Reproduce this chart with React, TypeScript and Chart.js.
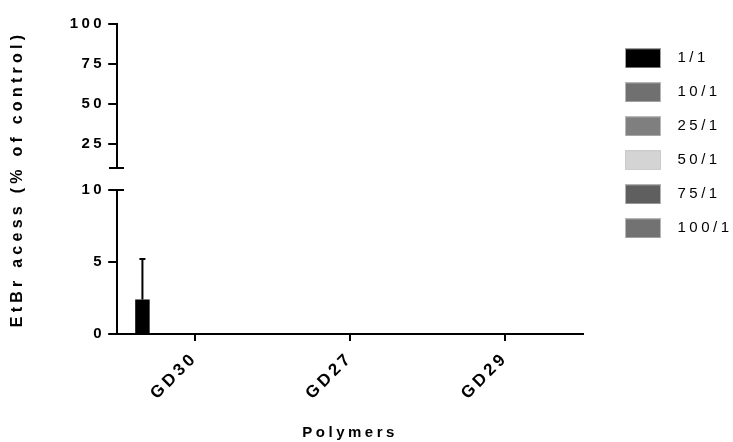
import React, { useEffect, useRef } from 'react';
import { Chart, registerables } from 'chart.js';

Chart.register(...registerables);

// ---- data ----
const categories = ['GD30', 'GD27', 'GD29'];
const seriesNames = ['1/1', '10/1', '25/1', '50/1', '75/1', '100/1'];
const values1_1 = [2.4, 0, 0];
const values10_1 = [0, 0, 0];
const values25_1 = [0, 0, 0];
const values50_1 = [0, 0, 0];
const values75_1 = [0, 0, 0];
const values100_1 = [0, 0, 0];
const errors1_1 = [2.8, 0, 0];
const errorsZero = [0, 0, 0];
const bottomTicks = [0, 5, 10];
const topTicks = [25, 50, 75, 100];
const seriesColors = ['#000000', '#707070', '#7f7f7f', '#d4d4d4', '#5f5f5f', '#727272'];

const seriesValues = [values1_1, values10_1, values25_1, values50_1, values75_1, values100_1];
const seriesErrors = [errors1_1, errorsZero, errorsZero, errorsZero, errorsZero, errorsZero];

const FONT = "'Liberation Sans', Arial, Helvetica, sans-serif";
const SPACING = '3.5px';
const TITLE_SPACING = '4.25px';

const spacingPlugin = {
  id: 'letterSpacing',
  afterInit(chart: any) {
    const tb = chart.titleBlock;
    if (tb && !tb.__wrapped) {
      const orig = tb.draw.bind(tb);
      tb.draw = (...args: any[]) => {
        const prev = chart.ctx.letterSpacing;
        chart.ctx.letterSpacing = TITLE_SPACING;
        orig(...args);
        chart.ctx.letterSpacing = prev;
      };
      tb.__wrapped = true;
    }
  },
  beforeUpdate(chart: any) {
    chart.ctx.letterSpacing = SPACING;
  },
  beforeLayout(chart: any) {
    chart.ctx.letterSpacing = SPACING;
  },
  beforeDraw(chart: any) {
    chart.ctx.letterSpacing = SPACING;
  },
};

const errorBarPlugin = {
  id: 'errorBars',
  afterDatasetsDraw(chart: any) {
    const ctx = chart.ctx;
    const yScale = chart.scales.y;
    chart.data.datasets.forEach((ds: any, di: number) => {
      const meta = chart.getDatasetMeta(di);
      const errs = ds.errorBars || [];
      meta.data.forEach((bar: any, j: number) => {
        const e = errs[j];
        if (!e) return;
        const v = ds.data[j];
        const yTop = yScale.getPixelForValue(v + e);
        ctx.save();
        ctx.strokeStyle = '#000';
        ctx.lineWidth = 2;
        ctx.beginPath();
        ctx.moveTo(bar.x, bar.y);
        ctx.lineTo(bar.x, yTop);
        ctx.moveTo(bar.x - 3, yTop);
        ctx.lineTo(bar.x + 3, yTop);
        ctx.stroke();
        ctx.restore();
      });
    });
  },
};

const brokenAxisPlugin = {
  id: 'brokenAxis',
  afterDraw(chart: any) {
    const ctx = chart.ctx;
    const yb = chart.scales.y;
    const yt = chart.scales.y2;
    const x = Math.round(yb.right);
    const top = yt.getPixelForValue(topTicks[topTicks.length - 1]);
    const brk = Math.round(yt.getPixelForValue(yb.max));
    const bTop = Math.round(yb.getPixelForValue(yb.max));
    ctx.save();
    ctx.strokeStyle = '#000';
    ctx.lineWidth = 2;
    ctx.beginPath();
    ctx.moveTo(x, top - 1);
    ctx.lineTo(x, brk);
    ctx.moveTo(x - 8, brk);
    ctx.lineTo(x + 7, brk);
    ctx.moveTo(x, bTop);
    ctx.lineTo(x + 7, bTop);
    ctx.stroke();
    ctx.restore();
  },
};

function makeSwatch(color: string) {
  const c = document.createElement('canvas');
  c.width = 45;
  c.height = 20;
  const g = c.getContext('2d')!;
  g.fillStyle = color;
  g.fillRect(0, 0, 36, 20);
  g.strokeStyle = 'rgba(200,200,200,0.8)';
  g.lineWidth = 1;
  g.strokeRect(0.5, 0.5, 35, 19);
  return c;
}

export default function App() {
  const canvasRef = useRef<HTMLCanvasElement | null>(null);

  useEffect(() => {
    const swatches = seriesColors.map(makeSwatch);
    const tickGrid = { display: true, drawOnChartArea: false, drawTicks: true, tickLength: 9, color: '#000', lineWidth: 2 };
    const tickFont = { family: FONT, size: 15, weight: 'bold' as const };
    const xTickFont = { family: FONT, size: 17, weight: 'bold' as const };
    const titleFont = { family: FONT, size: 16, weight: 'bold' as const };

    const chart = new Chart(canvasRef.current!, {
      type: 'bar',
      data: {
        labels: categories,
        datasets: seriesNames.map((name, i) => ({
          label: name,
          data: seriesValues[i],
          errorBars: seriesErrors[i],
          backgroundColor: seriesColors[i],
          borderWidth: 0,
          categoryPercentage: 0.81,
          barPercentage: 0.69,
          yAxisID: 'y',
        })) as any,
      },
      options: {
        animation: false,
        responsive: true,
        maintainAspectRatio: false,
        layout: { padding: { top: 24, right: 4, bottom: 0, left: 0 } },
        scales: {
          x: {
            type: 'category',
            position: 'bottom',
            grid: { display: true, drawOnChartArea: false, drawTicks: true, tickLength: 7, offset: false, color: '#000', lineWidth: 2 },
            border: { display: true, color: '#000', width: 2 },
            ticks: { maxRotation: 45, minRotation: 45, autoSkip: false, color: '#000', font: xTickFont, padding: 7 },
            title: { display: true, text: 'Polymers', color: '#000', font: tickFont, padding: { top: 0, bottom: 0 } },
            afterFit: (s: any) => { s.height = 108; },
          },
          y2: {
            type: 'linear',
            position: 'left',
            stack: 'v',
            stackWeight: 166,
            weight: 2,
            min: -3.75,
            max: 100,
            afterBuildTicks: (s: any) => { s.ticks = topTicks.map((v) => ({ value: v })); },
            grid: tickGrid,
            border: { display: false },
            ticks: { color: '#000', font: tickFont, padding: 3 },
            afterFit: (s: any) => { s.width = 90; },
          },
          y: {
            type: 'linear',
            position: 'left',
            stack: 'v',
            stackWeight: 144,
            weight: 1,
            min: 0,
            max: 10,
            afterBuildTicks: (s: any) => { s.ticks = bottomTicks.map((v) => ({ value: v })); },
            grid: tickGrid,
            border: { display: true, color: '#000', width: 2 },
            ticks: { color: '#000', font: tickFont, padding: 3 },
            afterFit: (s: any) => { s.width = 90; },
          },
          yr: {
            type: 'linear',
            position: 'right',
            display: true,
            grid: { display: false },
            border: { display: false },
            ticks: { display: false },
            afterFit: (s: any) => {
              const lw = s.chart.legend ? s.chart.legend.width : 0;
              s.width = Math.max(0, s.chart.width - 4 - lw - 583);
            },
          },
        } as any,
        plugins: {
          title: {
            display: true,
            text: 'EtBr acess (% of control)',
            position: 'left',
            fullSize: false,
            color: '#000',
            font: titleFont,
            padding: { top: 8, bottom: 0 },
          },
          legend: {
            position: 'right',
            align: 'start',
            maxWidth: 123,
            title: { display: true, text: ' ', font: { size: 1 }, padding: { top: 6.6, bottom: 0 } },
            labels: {
              usePointStyle: true,
              pointStyleWidth: 45,
              boxHeight: 15,
              padding: 19,
              color: '#000',
              font: { family: FONT, size: 15, weight: 'normal' },
              generateLabels: (c: any) => {
                const items = (Chart.defaults.plugins.legend.labels as any).generateLabels(c);
                return items.map((it: any, i: number) => ({ ...it, pointStyle: swatches[i] }));
              },
            },
          },
          tooltip: { enabled: false },
        },
      } as any,
      plugins: [spacingPlugin, errorBarPlugin, brokenAxisPlugin],
    });
    return () => chart.destroy();
  }, []);

  return (
    <div style={{ position: 'fixed', left: 0, top: 0, width: 733, height: 442, background: '#fff' }}>
      <canvas ref={canvasRef} />
    </div>
  );
}
